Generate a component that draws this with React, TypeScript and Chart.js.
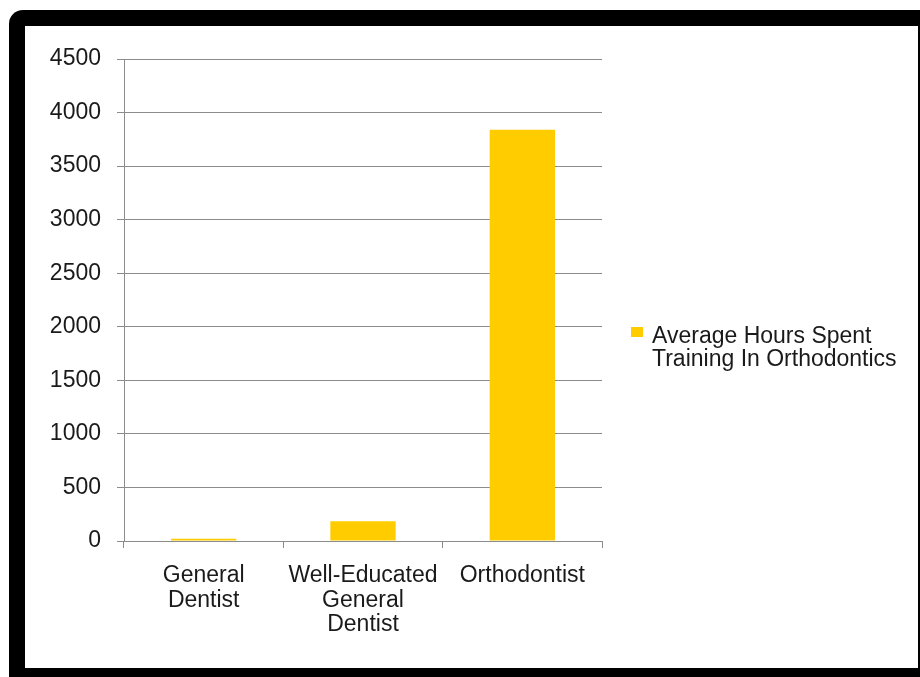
import React, { useEffect, useRef } from "react";
import { Chart, registerables } from "chart.js";

Chart.register(...registerables);

const CATEGORIES: string[][] = [
  ["General", "Dentist"],
  ["Well-Educated", "General", "Dentist"],
  ["Orthodontist"],
];
const SERIES_LABEL = "Average Hours Spent Training In Orthodontics";
const HOURS: number[] = [20, 185, 3840];
const Y_MIN = 0;
const Y_MAX = 4500;
const Y_STEP = 500;

const FONT_FAMILY = "'Liberation Sans', Arial, Helvetica, sans-serif";
const BAR_COLOR = "#FFCC00";
const TEXT_COLOR = "#1a1a1a";
const GRID_COLOR = "#8c8c8c";

export default function App() {
  const canvasRef = useRef<HTMLCanvasElement | null>(null);

  useEffect(() => {
    if (!canvasRef.current) return;
    const chart = new Chart(canvasRef.current, {
      type: "bar",
      data: {
        labels: CATEGORIES,
        datasets: [
          {
            label: SERIES_LABEL,
            data: HOURS,
            backgroundColor: BAR_COLOR,
            borderWidth: 0,
            barPercentage: 0.41,
            categoryPercentage: 1,
          },
        ],
      },
      options: {
        animation: false,
        responsive: false,
        maintainAspectRatio: false,
        layout: { padding: { top: 33, right: 316, left: 0, bottom: 0 } },
        plugins: {
          legend: { display: false },
          tooltip: { enabled: false },
        },
        scales: {
          x: {
            offset: true,
            grid: {
              offset: true,
              drawOnChartArea: false,
              drawTicks: true,
              tickLength: 7,
              color: GRID_COLOR,
            },
            border: { color: GRID_COLOR, width: 1 },
            ticks: {
              color: TEXT_COLOR,
              font: { family: FONT_FAMILY, size: 23, lineHeight: 1.08 },
              padding: 15,
              maxRotation: 0,
              autoSkip: false,
            },
            afterFit: (scale: any) => {
              scale.height = 127;
            },
          },
          y: {
            min: Y_MIN,
            max: Y_MAX,
            ticks: {
              stepSize: Y_STEP,
              color: TEXT_COLOR,
              font: { family: FONT_FAMILY, size: 23 },
              padding: 16,
              callback: (value: any) => String(value),
            },
            grid: {
              color: GRID_COLOR,
              drawTicks: true,
              tickLength: 7,
            },
            border: { color: GRID_COLOR, width: 1 },
            afterFit: (scale: any) => {
              scale.width = 99;
            },
          },
        },
      },
    });
    return () => chart.destroy();
  }, []);

  return (
    <div
      style={{
        position: "fixed",
        left: 0,
        top: 0,
        width: 920,
        height: 677,
        background: "#ffffff",
        overflow: "hidden",
      }}
    >
      <div
        style={{
          position: "absolute",
          left: 9,
          top: 10,
          width: 930,
          height: 690,
          background: "#000000",
          borderRadius: 14,
        }}
      />
      <div
        style={{
          position: "absolute",
          left: 25,
          top: 26,
          width: 893,
          height: 642,
          background: "#ffffff",
        }}
      >
        <canvas
          ref={canvasRef}
          width={893}
          height={642}
          style={{ position: "absolute", left: 0, top: 0, width: 893, height: 642 }}
        />
        <div
          style={{
            position: "absolute",
            left: 606,
            top: 301,
            width: 12,
            height: 10,
            background: BAR_COLOR,
          }}
        />
        <div
          style={{
            position: "absolute",
            left: 627,
            top: 298,
            width: 262,
            fontFamily: FONT_FAMILY,
            fontSize: 23,
            lineHeight: "23px",
            color: TEXT_COLOR,
          }}
        >
          {SERIES_LABEL}
        </div>
      </div>
    </div>
  );
}
